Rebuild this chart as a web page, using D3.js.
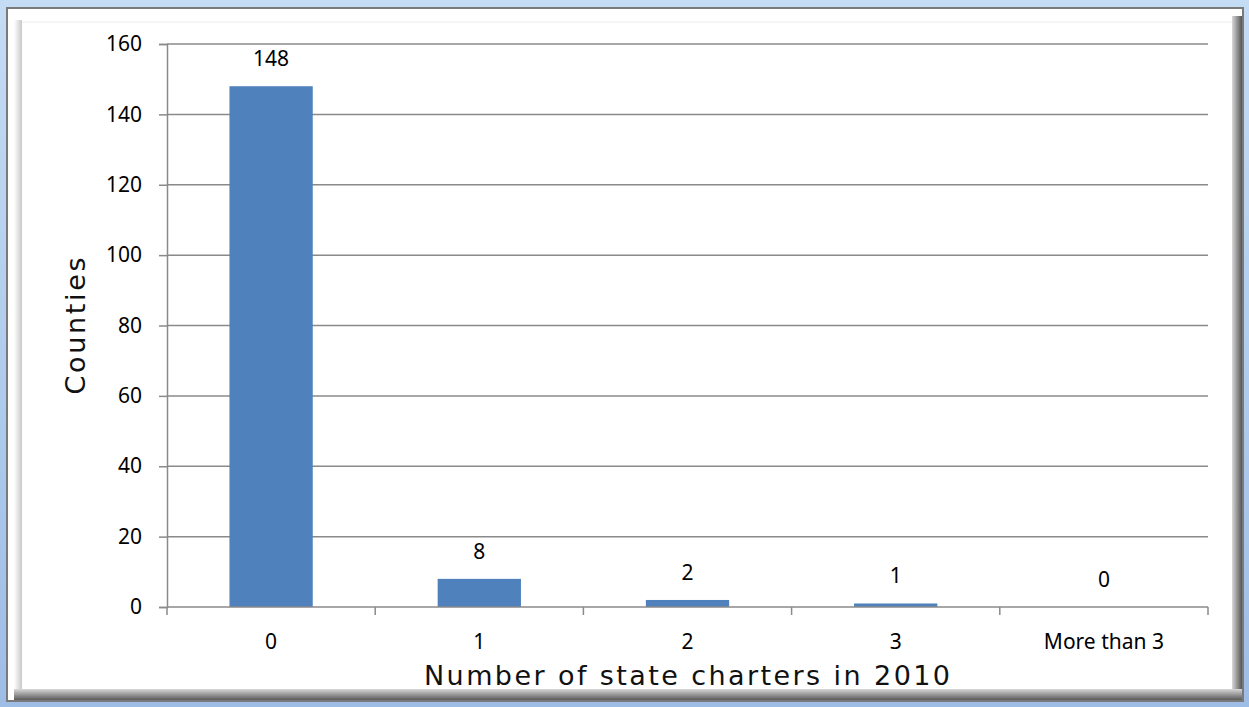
<!DOCTYPE html>
<html>
<head>
<meta charset="utf-8">
<script src="https://cdn.jsdelivr.net/npm/d3@7"></script>
<style>
  body { margin: 0; background: #fff; }
  svg { display: block; }
</style>
</head>
<body>
<svg id="chart"></svg>
<script>
// data
const categories = ["0", "1", "2", "3", "More than 3"];
const counties = [148, 8, 2, 1, 0];
const yTicks = [0, 20, 40, 60, 80, 100, 120, 140, 160];

const W = 1249, H = 707;
const svg = d3.select("#chart").attr("width", W).attr("height", H);
const defs = svg.append("defs");

// ---- frame (blue outer, grey bevel)
let blue = defs.append("linearGradient").attr("id", "blueG").attr("x1", 0).attr("y1", 0).attr("x2", 0).attr("y2", 1);
blue.append("stop").attr("offset", 0).attr("stop-color", "#c4dcf4");
blue.append("stop").attr("offset", 1).attr("stop-color", "#9ebde6");
svg.append("rect").attr("width", W).attr("height", H).attr("fill", "url(#blueG)");

svg.append("rect").attr("x", 7).attr("y", 8).attr("width", 1236).attr("height", 693)
   .attr("fill", "#fff").attr("stroke", "#7a7a7a").attr("stroke-width", 2);

let shR = defs.append("linearGradient").attr("id", "shR").attr("x1", 0).attr("x2", 1);
shR.append("stop").attr("offset", 0).attr("stop-color", "#d8d8d8");
shR.append("stop").attr("offset", 1).attr("stop-color", "#555");
let shB = defs.append("linearGradient").attr("id", "shB").attr("x1", 0).attr("x2", 0).attr("y1", 0).attr("y2", 1);
shB.append("stop").attr("offset", 0).attr("stop-color", "#d8d8d8");
shB.append("stop").attr("offset", 1).attr("stop-color", "#5a5a5a");
let shL = defs.append("linearGradient").attr("id", "shL").attr("x1", 0).attr("x2", 1);
shL.append("stop").attr("offset", 0).attr("stop-color", "#fff");
shL.append("stop").attr("offset", 1).attr("stop-color", "#c8c8c8");

svg.append("rect").attr("x", 1232).attr("y", 16).attr("width", 10).attr("height", 684).attr("fill", "url(#shR)");
svg.append("rect").attr("x", 14).attr("y", 689).attr("width", 1228).attr("height", 11).attr("fill", "url(#shB)");
svg.append("rect").attr("x", 14).attr("y", 20).attr("width", 8).attr("height", 669).attr("fill", "url(#shL)");
svg.append("rect").attr("x", 22).attr("y", 22).attr("width", 1210).attr("height", 667).attr("fill", "#fff");
svg.append("line").attr("x1", 22).attr("x2", 1232).attr("y1", 22).attr("y2", 22).attr("stroke", "#ececec");

// ---- plot
const plotL = 167, plotR = 1208, plotT = 44, plotB = 607;

const x = d3.scaleBand().domain(categories).range([plotL, plotR]).paddingInner(0.6).paddingOuter(0.3);
const xb = d3.scaleBand().domain(categories).range([plotL, plotR]);
const y = d3.scaleLinear().domain([0, 160]).range([plotB, plotT]);

const grid = "#8a8a8a";
const lblFont = "'Noto Sans', sans-serif";

svg.append("g").selectAll("line").data(yTicks.filter(d => d > 0)).join("line")
   .attr("x1", plotL).attr("x2", plotR)
   .attr("y1", d => y(d)).attr("y2", d => y(d))
   .attr("stroke", grid).attr("stroke-width", 1.5);

svg.append("g").selectAll("rect").data(counties).join("rect")
   .attr("x", (d, i) => x(categories[i]))
   .attr("y", d => y(d))
   .attr("width", x.bandwidth())
   .attr("height", d => plotB - y(d))
   .attr("fill", "#4f81bd");

// y axis
const yAxis = d3.axisLeft(y).tickValues(yTicks).tickSize(8).tickPadding(17);
const gy = svg.append("g").attr("transform", `translate(${plotL},0)`).call(yAxis);
gy.select(".domain").attr("stroke", grid).attr("stroke-width", 1.5);
gy.selectAll(".tick line").attr("stroke", grid).attr("stroke-width", 1.5);
gy.selectAll("text").attr("font-family", lblFont).attr("font-size", 21).attr("fill", "#000");

// x axis
svg.append("line").attr("x1", plotL).attr("x2", plotR).attr("y1", plotB).attr("y2", plotB)
   .attr("stroke", grid).attr("stroke-width", 1.5);
const bounds = categories.map(c => xb(c)).concat([plotR]);
svg.append("g").selectAll("line").data(bounds).join("line")
   .attr("x1", d => d).attr("x2", d => d)
   .attr("y1", plotB).attr("y2", plotB + 8)
   .attr("stroke", grid).attr("stroke-width", 1.5);

svg.append("g").selectAll("text").data(categories).join("text")
   .attr("x", d => xb(d) + xb.bandwidth() / 2)
   .attr("y", 649)
   .attr("text-anchor", "middle")
   .attr("font-family", lblFont).attr("font-size", 21)
   .text(d => d);

// data labels
svg.append("g").selectAll("text").data(counties).join("text")
   .attr("x", (d, i) => xb(categories[i]) + xb.bandwidth() / 2)
   .attr("y", d => y(d) - 20)
   .attr("text-anchor", "middle")
   .attr("font-family", lblFont).attr("font-size", 21)
   .text(d => d);

// titles
svg.append("text").attr("x", 687).attr("y", 685).attr("text-anchor", "middle")
   .attr("font-family", "'DejaVu Sans', sans-serif").attr("font-size", 27).attr("fill", "#111")
   .attr("textLength", 526).attr("lengthAdjust", "spacing")
   .text("Number of state charters in 2010");
svg.append("text").attr("transform", "translate(85,326) rotate(-90)").attr("text-anchor", "middle")
   .attr("font-family", "'DejaVu Sans', sans-serif").attr("font-size", 27).attr("fill", "#111")
   .attr("textLength", 137).attr("lengthAdjust", "spacing")
   .text("Counties");
</script>
</body>
</html>
